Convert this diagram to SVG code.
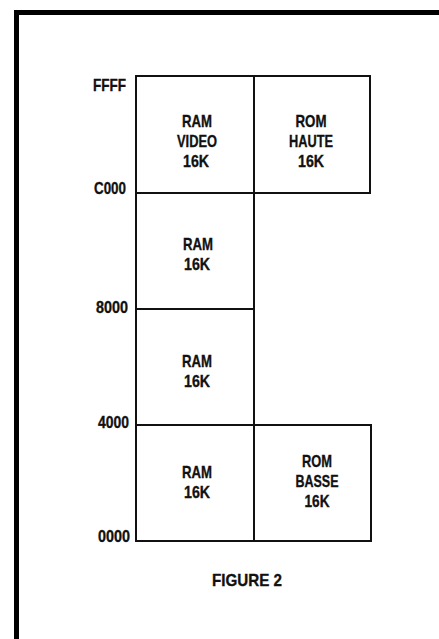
<svg xmlns="http://www.w3.org/2000/svg" width="439" height="639" viewBox="0 0 439 639">
<style>
.box{fill:#fff;stroke:#111;stroke-width:2}
.t{font-family:"Liberation Sans",Arial,sans-serif;font-weight:bold;font-size:17px;fill:#111;stroke:#111;stroke-width:0.35;text-anchor:middle}
.a{font-family:"Liberation Sans",Arial,sans-serif;font-weight:bold;font-size:17px;fill:#111;stroke:#111;stroke-width:0.35;text-anchor:start}
</style>
<rect width="439" height="639" fill="#fff"/>
<path d="M16.5 639 V12.5 H439" fill="none" stroke="#000" stroke-width="5"/>
<g id="connectors"></g>
<g id="ram-video">
<rect class="box" x="136" y="76" width="118" height="117"/>
<text class="t" x="197" y="127" textLength="30" lengthAdjust="spacingAndGlyphs">RAM</text>
<text class="t" x="197" y="147" textLength="40" lengthAdjust="spacingAndGlyphs">VIDEO</text>
<text class="t" x="196" y="167" textLength="26" lengthAdjust="spacingAndGlyphs">16K</text>
</g>
<g id="rom-haute">
<rect class="box" x="254" y="76" width="116" height="117"/>
<text class="t" x="311" y="127" textLength="31" lengthAdjust="spacingAndGlyphs">ROM</text>
<text class="t" x="311" y="147" textLength="44" lengthAdjust="spacingAndGlyphs">HAUTE</text>
<text class="t" x="311" y="167" textLength="26" lengthAdjust="spacingAndGlyphs">16K</text>
</g>
<g id="ram-8000">
<rect class="box" x="136" y="193" width="118" height="116"/>
<text class="t" x="198" y="250" textLength="30" lengthAdjust="spacingAndGlyphs">RAM</text>
<text class="t" x="197" y="270" textLength="26" lengthAdjust="spacingAndGlyphs">16K</text>
</g>
<g id="ram-4000">
<rect class="box" x="136" y="309" width="118" height="116"/>
<text class="t" x="197" y="367" textLength="30" lengthAdjust="spacingAndGlyphs">RAM</text>
<text class="t" x="197" y="387" textLength="26" lengthAdjust="spacingAndGlyphs">16K</text>
</g>
<g id="ram-0000">
<rect class="box" x="136" y="425" width="118" height="116"/>
<text class="t" x="197" y="478" textLength="30" lengthAdjust="spacingAndGlyphs">RAM</text>
<text class="t" x="197" y="498" textLength="26" lengthAdjust="spacingAndGlyphs">16K</text>
</g>
<g id="rom-basse">
<rect class="box" x="254" y="425" width="117" height="116"/>
<text class="t" x="317" y="467" textLength="30" lengthAdjust="spacingAndGlyphs">ROM</text>
<text class="t" x="317" y="487" textLength="43" lengthAdjust="spacingAndGlyphs">BASSE</text>
<text class="t" x="317" y="507" textLength="25" lengthAdjust="spacingAndGlyphs">16K</text>
</g>
<g id="addresses">
<text class="a" x="93" y="91" textLength="33" lengthAdjust="spacingAndGlyphs">FFFF</text>
<text class="a" x="94" y="194" textLength="32" lengthAdjust="spacingAndGlyphs">C000</text>
<text class="a" x="96" y="313" textLength="32" lengthAdjust="spacingAndGlyphs">8000</text>
<text class="a" x="98" y="428" textLength="31" lengthAdjust="spacingAndGlyphs">4000</text>
<text class="a" x="98" y="542" textLength="32" lengthAdjust="spacingAndGlyphs">0000</text>
</g>
<g id="caption">
<text class="t" x="247" y="586" textLength="70" lengthAdjust="spacingAndGlyphs">FIGURE 2</text>
</g>
</svg>
